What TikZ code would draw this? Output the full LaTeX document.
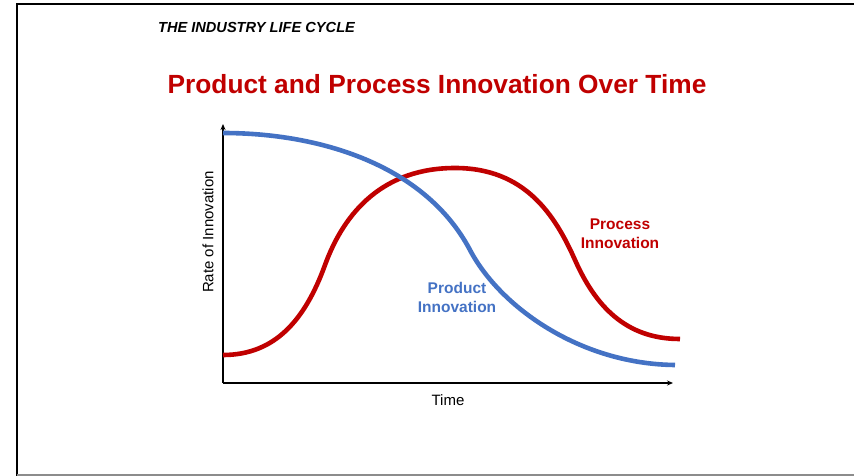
\documentclass[tikz,border=0pt]{standalone}
\usepackage{fontspec}
\setmainfont{Liberation Sans}
\usetikzlibrary{arrows.meta}
\definecolor{procred}{HTML}{C00000}
\definecolor{prodblue}{HTML}{4472C4}
\definecolor{framegray}{HTML}{8C8C8C}
\tikzset{
  curveline/.style={line width=4.6pt},
  axisline/.style={line width=1.4pt,-{Stealth[length=6pt,width=5pt]}},
  lbl/.style={font=\fontsize{15.5}{19}\selectfont\bfseries,align=center,inner sep=0pt},
  axlbl/.style={font=\fontsize{15}{18}\selectfont,inner sep=0pt},
}
\begin{document}
\begin{tikzpicture}[x=1pt,y=-1pt]
\useasboundingbox (0,0) rectangle (854,476);
% frame
\draw[line width=2.5pt,black] (17,476) -- (17,4) -- (854,4);
\draw[line width=1.5pt,framegray] (17,475) -- (854,475);
% titles
\node[inner sep=0pt,font=\fontsize{14.6}{17}\selectfont\bfseries\itshape] (top) at (256.5,27.5) {THE INDUSTRY LIFE CYCLE};
\node[inner sep=0pt,font=\fontsize{26.3}{30}\selectfont\bfseries,text=procred] (title) at (437,84) {Product and Process Innovation Over Time};
% axes
\coordinate (o) at (223,383);
\coordinate (ytop) at (223,124);
\coordinate (xend) at (673,383);
\draw[axisline] (o) -- (ytop);
\draw[axisline] (o) -- (xend);
\node[axlbl,rotate=90] (ylab) at (208,232) {Rate of Innovation};
\node[axlbl] (xlab) at (448,400) {Time};
% curves
\draw[curveline,procred] (223,355) .. controls (275,355) and (305,320) .. (325,265)
  .. controls (345,210) and (385,168) .. (455,168)
  .. controls (525,168) and (555,215) .. (575,260)
  .. controls (595,305) and (625,339) .. (680,339);
\draw[curveline,prodblue] (223,133) .. controls (320,133) and (425,165) .. (470,250)
  .. controls (500,307) and (580,364) .. (675,365);
% labels
\node[lbl,text=prodblue] (prodlab) at (457,297) {Product\\Innovation};
\node[lbl,text=procred] (proclab) at (620,234) {Process\\Innovation};
\end{tikzpicture}
\end{document}
